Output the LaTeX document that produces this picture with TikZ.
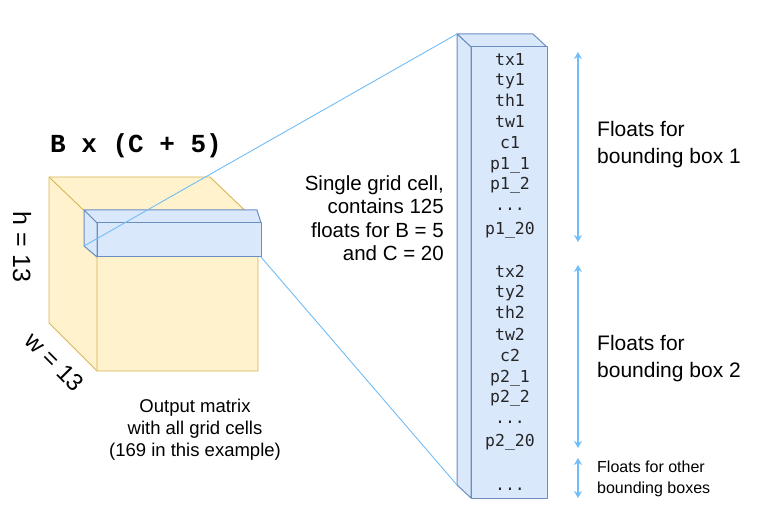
\documentclass[tikz,border=0pt]{standalone}
\usepackage{fontspec}
\setmainfont{Liberation Sans}
\setsansfont{Liberation Sans}
\setmonofont{DejaVu Sans Mono}
\newfontfamily\boldmono{Liberation Mono}
\usepackage{xcolor}
\usetikzlibrary{arrows.meta,positioning}
\definecolor{cubefill}{HTML}{FFF2CC}
\definecolor{cubeline}{HTML}{D6B656}
\definecolor{cellfill}{HTML}{DAE8FC}
\definecolor{cellline}{HTML}{6C8EBF}
\definecolor{linkblue}{HTML}{70BDF8}
\tikzset{
  cube/.style={fill=cubefill, draw=cubeline, line width=0.9pt, line join=round},
  cell/.style={fill=cellfill, draw=cellline, line width=1pt, line join=round},
  link/.style={draw=linkblue, line width=0.9pt},
  span/.style={draw=linkblue, line width=1.2pt, {Stealth[length=7pt,width=8pt]}-{Stealth[length=7pt,width=8pt]}},
  entry/.style={font=\fontsize{16.5}{18}\ttfamily, text=black!85, inner sep=0pt, anchor=base},
  note/.style={align=left, anchor=base west, inner sep=0pt}
}
\begin{document}
\begin{tikzpicture}[x=1pt,y=-1pt]
    \useasboundingbox (0,0) rectangle (764,516);
    % Output matrix (cube)
    \coordinate (cbtl) at (49,177);
    \coordinate (cbtr) at (210,177);
    \coordinate (cbbl) at (49,323);
    \coordinate (cftl) at (97,223);
    \coordinate (cftr) at (258,223);
    \coordinate (cfbr) at (258,371);
    \coordinate (cfbl) at (97,371);
    \draw[cube] (cbtl) -- (cbtr) -- (cftr) -- (cfbr) -- (cfbl) -- (cbbl) -- cycle;
    \draw[cube] (cbtl) -- (cftl) -- (cfbl);
    \draw[cube] (cftl) -- (cftr);
    % Single grid cell (bar on the cube)
    \coordinate (bbtl) at (84,210);
    \coordinate (bbtr) at (257,210);
    \coordinate (bbbl) at (84,246);
    \coordinate (bftl) at (97,223);
    \coordinate (bftr) at (261,223);
    \coordinate (bfbr) at (261,257);
    \coordinate (bfbl) at (97,257);
    \draw[cell] (bbtl) -- (bbtr) -- (bftr) -- (bftl) -- cycle;
    \draw[cell] (bbtl) -- (bftl) -- (bfbl) -- (bbbl) -- cycle;
    \draw[cell] (bftl) rectangle (bfbr);
    % Column of floats
    \coordinate (kbtl) at (457,34);
    \coordinate (kbtr) at (533,34);
    \coordinate (kbbl) at (457,485);
    \coordinate (kftl) at (471,47);
    \coordinate (kftr) at (547,47);
    \coordinate (kfbr) at (547,498);
    \coordinate (kfbl) at (471,498);
    \draw[cell] (kbtl) -- (kbtr) -- (kftr) -- (kftl) -- cycle;
    \draw[cell] (kbtl) -- (kftl) -- (kfbl) -- (kbbl) -- cycle;
    \draw[cell] (kftl) rectangle (kfbr);
    % Zoom lines
    \draw[link] (bbbl) -- (kbtl);
    \draw[link] (bfbr) -- (kbbl);
    % Entries
    \node[entry] (tx1) at (510,66) {tx1};
    \node[entry] (ty1) at (510,86) {ty1};
    \node[entry] (th1) at (510,107) {th1};
    \node[entry] (tw1) at (510,128) {tw1};
    \node[entry] (c1) at (510,149) {c1};
    \node[entry] (p11) at (510,170) {p1\_1};
    \node[entry] (p12) at (510,190) {p1\_2};
    \node[entry] (d1) at (510,211) {...};
    \node[entry] (p120) at (510,235) {p1\_20};
    \node[entry] (tx2) at (510,277) {tx2};
    \node[entry] (ty2) at (510,298) {ty2};
    \node[entry] (th2) at (510,319) {th2};
    \node[entry] (tw2) at (510,340) {tw2};
    \node[entry] (c2) at (510,361) {c2};
    \node[entry] (p21) at (510,382) {p2\_1};
    \node[entry] (p22) at (510,402) {p2\_2};
    \node[entry] (d2) at (510,423) {...};
    \node[entry] (p220) at (510,446) {p2\_20};
    \node[entry] (d3) at (510,490) {...};
    % Labels of the cube
    \node[font=\fontsize{26}{28}\boldmono\bfseries, anchor=base west, inner sep=0pt] (dims) at (50,153) {B x (C + 5)};
    \node[font=\fontsize{25}{28}\selectfont, rotate=-90, inner sep=0pt] (hlab) at (22,247) {h = 13};
    \node[font=\fontsize{24}{28}\selectfont, rotate=-45, inner sep=0pt] (wlab) at (55,362) {w = 13};
    \node[font=\fontsize{18.5}{22}\selectfont, align=center, anchor=north, inner sep=0pt] (outlab) at (195,399) {Output matrix\\with all grid cells\\(169 in this example)};
    \node[font=\fontsize{20.5}{23.5}\selectfont, align=right, anchor=north east, inner sep=0pt] (celllab) at (444,175) {Single grid cell,\\contains 125\\floats for B = 5\\and C = 20};
    % Spans of the bounding boxes
    \coordinate (s1a) at (578,52);
    \coordinate (s1b) at (578,242);
    \coordinate (s2a) at (578,265);
    \coordinate (s2b) at (578,448);
    \coordinate (s3a) at (578,458);
    \coordinate (s3b) at (578,498);
    \draw[span] (s1a) -- (s1b);
    \draw[span] (s2a) -- (s2b);
    \draw[span] (s3a) -- (s3b);
    \node[note, font=\fontsize{21}{27}\selectfont] (box1) at (597,164) {Floats for\\bounding box 1};
    \node[note, font=\fontsize{21}{27}\selectfont] (box2) at (597,377) {Floats for\\bounding box 2};
    \node[note, font=\fontsize{16}{21}\selectfont] (boxo) at (597,493) {Floats for other\\bounding boxes};
\end{tikzpicture}
\end{document}
